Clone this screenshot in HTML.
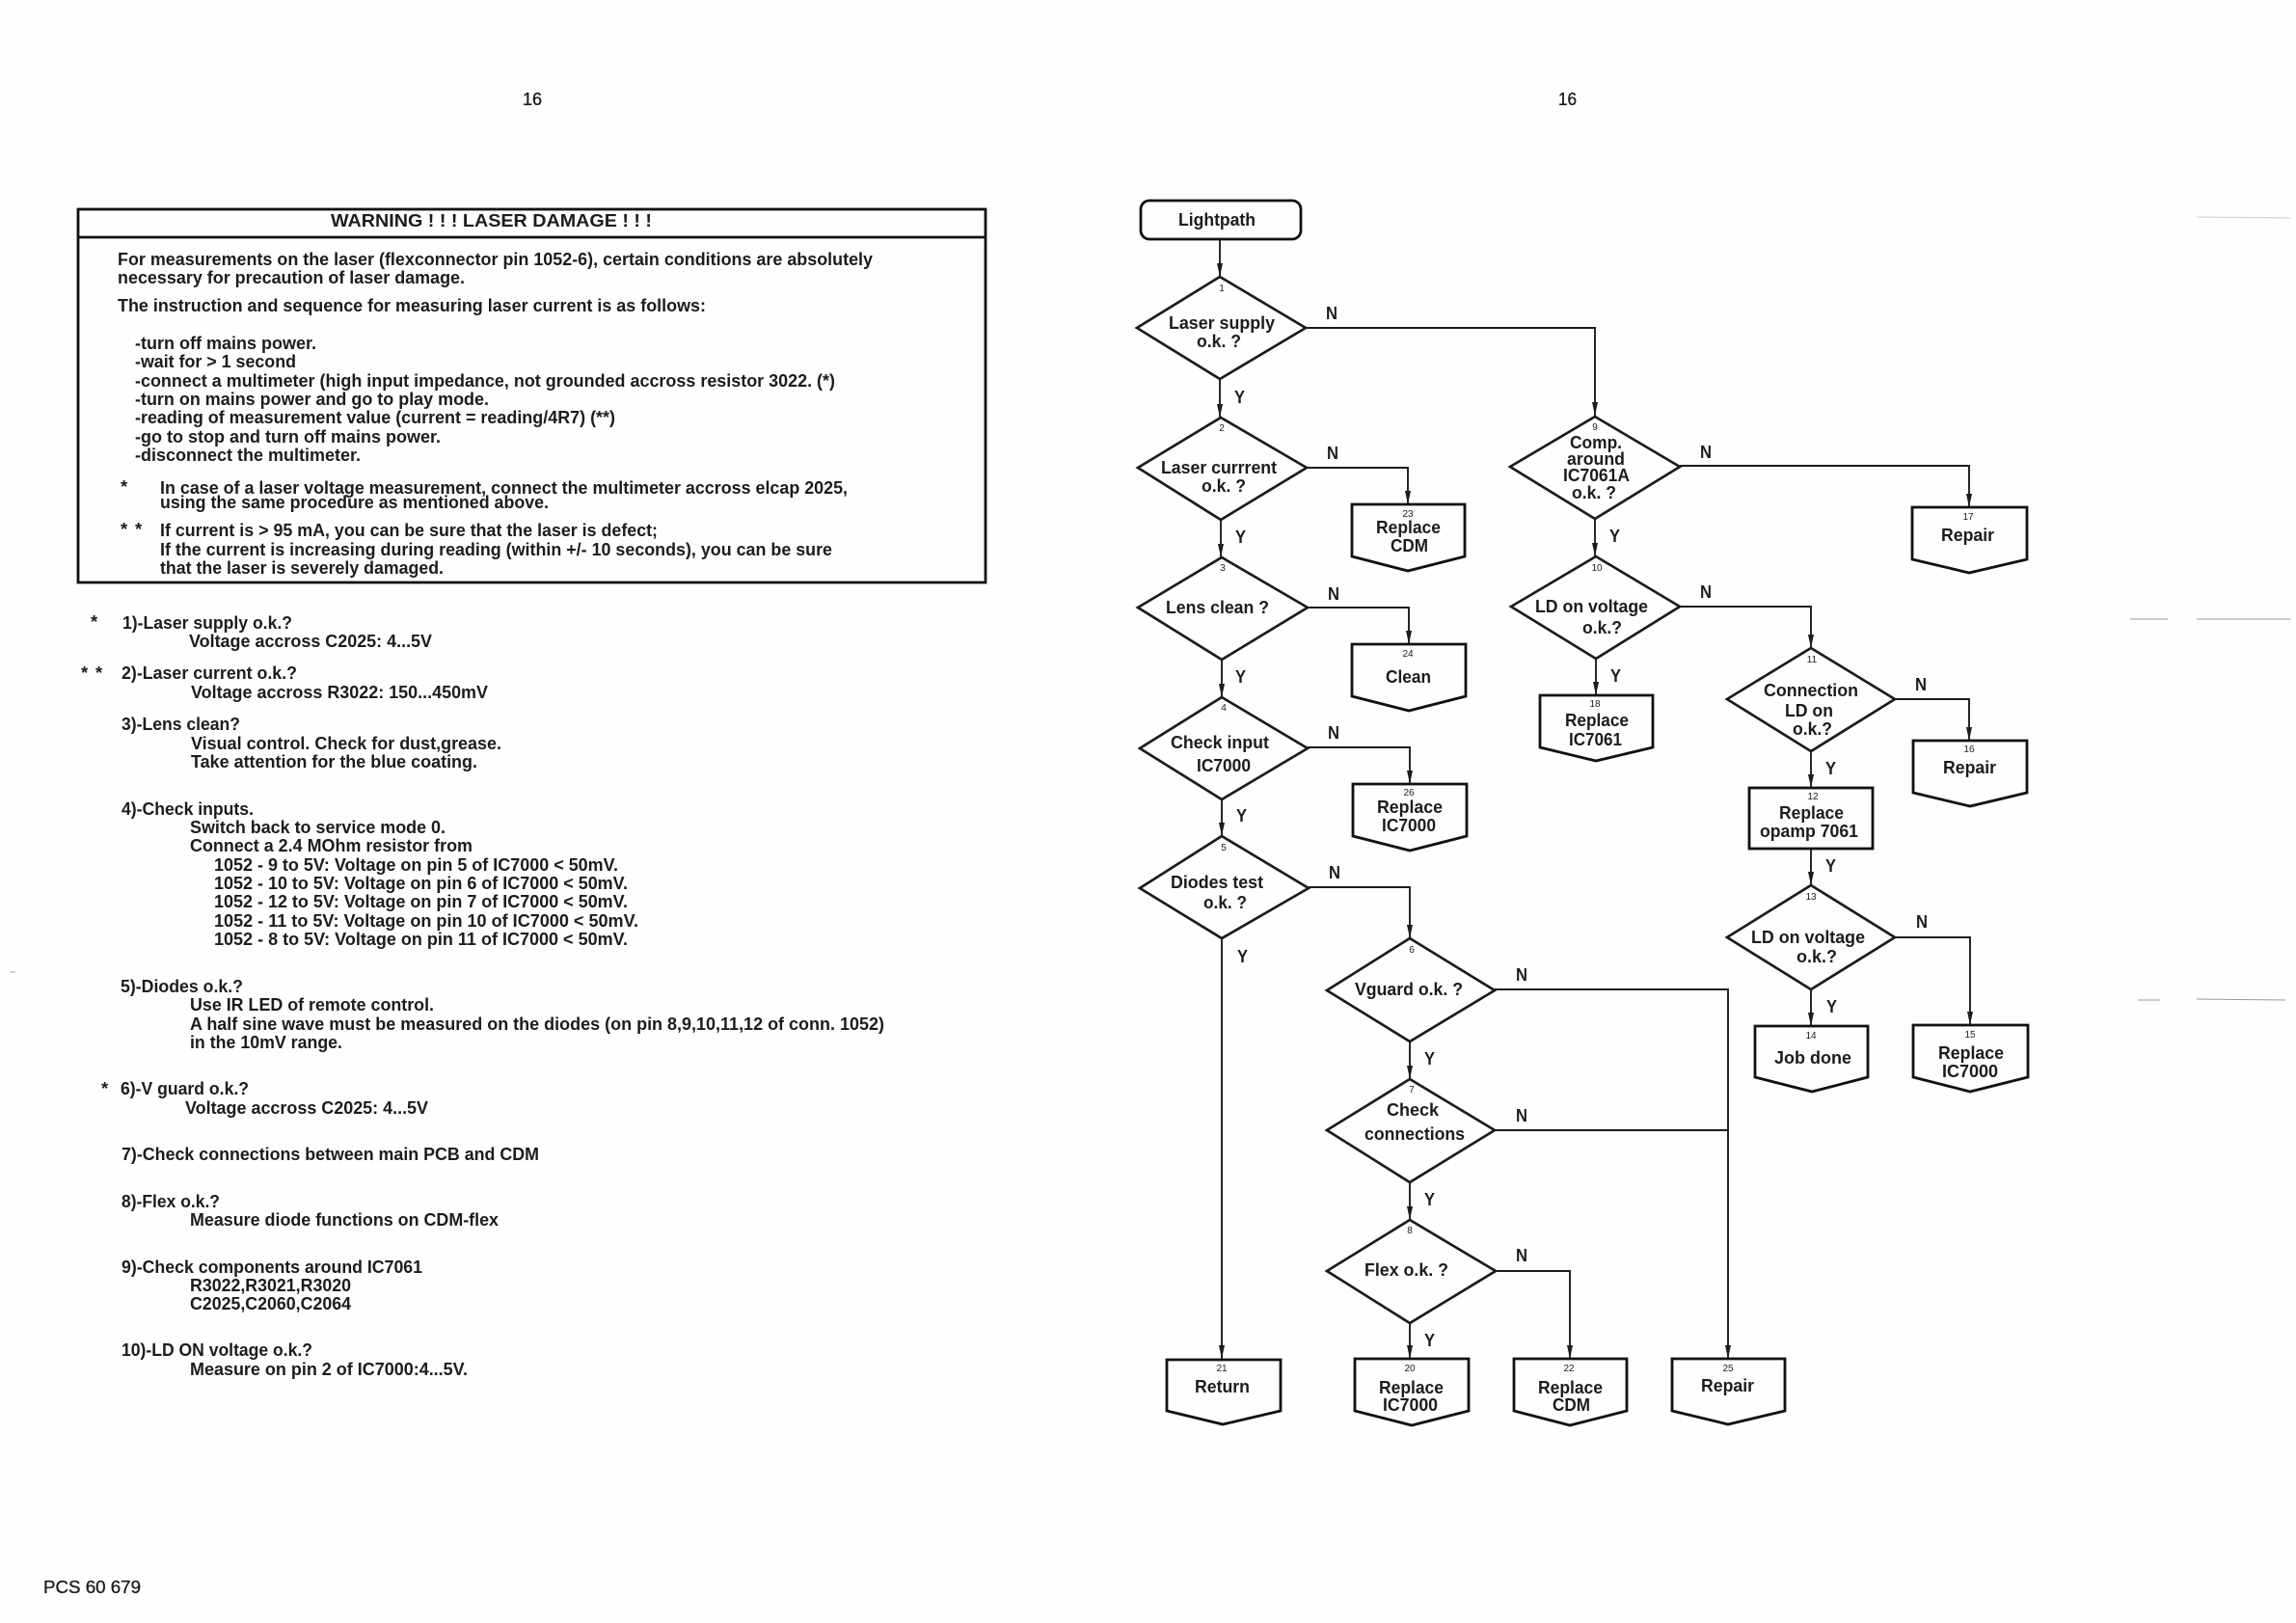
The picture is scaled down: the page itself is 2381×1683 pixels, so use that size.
<!DOCTYPE html>
<html lang="en">
<head>
<meta charset="utf-8">
<title>Lightpath flowchart</title>
<style>
html,body{margin:0;padding:0;background:#fff;}
svg{display:block;position:absolute;left:0;top:0;}
text{font-family:"Liberation Sans",sans-serif;font-weight:bold;font-size:18.5px;fill:#1c1c1c;}
.n{font-size:10px;text-anchor:middle;font-weight:normal;}
.r{font-weight:normal;stroke:#1c1c1c;stroke-width:.35px;}
.c{fill:none;stroke:#1c1c1c;stroke-width:1.9;}
.d{fill:none;stroke:#1c1c1c;stroke-width:2.7;stroke-linejoin:miter;}
.b{fill:none;stroke:#111;stroke-width:2.8;stroke-linejoin:miter;}
.a{fill:#1c1c1c;stroke:none;}
</style>
</head>
<body>
<svg width="2381" height="1683" viewBox="0 0 2381 1683" xmlns="http://www.w3.org/2000/svg">
<rect width="2381" height="1683" fill="#fefefe"/>

<!-- page numbers -->
<text class="r" x="542" y="109" textLength="20" lengthAdjust="spacingAndGlyphs">16</text>
<text class="r" x="1616" y="109" textLength="19" lengthAdjust="spacingAndGlyphs">16</text>
<text class="r" x="45" y="1652" textLength="101" lengthAdjust="spacingAndGlyphs">PCS 60 679</text>

<!-- warning box -->
<rect x="81" y="217" width="941" height="387" fill="none" stroke="#111" stroke-width="2.8"/>
<line x1="81" y1="246" x2="1022" y2="246" stroke="#111" stroke-width="2.8"/>
<text x="343" y="235" textLength="333" lengthAdjust="spacingAndGlyphs">WARNING ! ! ! LASER DAMAGE ! ! !</text>
<text x="122" y="275" textLength="783" lengthAdjust="spacingAndGlyphs">For measurements on the laser (flexconnector pin 1052-6), certain conditions are absolutely</text>
<text x="122" y="294" textLength="360" lengthAdjust="spacingAndGlyphs">necessary for precaution of laser damage.</text>
<text x="122" y="323" textLength="610" lengthAdjust="spacingAndGlyphs">The instruction and sequence for measuring laser current is as follows:</text>
<text x="140" y="362" textLength="188" lengthAdjust="spacingAndGlyphs">-turn off mains power.</text>
<text x="140" y="381" textLength="167" lengthAdjust="spacingAndGlyphs">-wait for &gt; 1 second</text>
<text x="140" y="401" textLength="726" lengthAdjust="spacingAndGlyphs">-connect a multimeter (high input impedance, not grounded accross resistor 3022. (*)</text>
<text x="140" y="420" textLength="367" lengthAdjust="spacingAndGlyphs">-turn on mains power and go to play mode.</text>
<text x="140" y="439" textLength="498" lengthAdjust="spacingAndGlyphs">-reading of measurement value (current = reading/4R7) (**)</text>
<text x="140" y="459" textLength="317" lengthAdjust="spacingAndGlyphs">-go to stop and turn off mains power.</text>
<text x="140" y="478" textLength="234" lengthAdjust="spacingAndGlyphs">-disconnect the multimeter.</text>
<text x="125" y="511">*</text>
<text x="166" y="512" textLength="713" lengthAdjust="spacingAndGlyphs">In case of a laser voltage measurement, connect the multimeter accross elcap 2025,</text>
<text x="166" y="527" textLength="403" lengthAdjust="spacingAndGlyphs">using the same procedure as mentioned above.</text>
<text x="125" y="555">*</text><text x="140" y="555">*</text>
<text x="166" y="556" textLength="516" lengthAdjust="spacingAndGlyphs">If current is &gt; 95 mA, you can be sure that the laser is defect;</text>
<text x="166" y="576" textLength="697" lengthAdjust="spacingAndGlyphs">If the current is increasing during reading (within +/- 10 seconds), you can be sure</text>
<text x="166" y="595" textLength="294" lengthAdjust="spacingAndGlyphs">that the laser is severely damaged.</text>

<!-- list -->
<text x="94" y="651">*</text>
<text x="127" y="652" textLength="176" lengthAdjust="spacingAndGlyphs">1)-Laser supply o.k.?</text>
<text x="196" y="671" textLength="252" lengthAdjust="spacingAndGlyphs">Voltage accross C2025: 4...5V</text>
<text x="84" y="704">*</text><text x="99" y="704">*</text>
<text x="126" y="704" textLength="182" lengthAdjust="spacingAndGlyphs">2)-Laser current o.k.?</text>
<text x="198" y="724" textLength="308" lengthAdjust="spacingAndGlyphs">Voltage accross R3022: 150...450mV</text>
<text x="126" y="757" textLength="123" lengthAdjust="spacingAndGlyphs">3)-Lens clean?</text>
<text x="198" y="777" textLength="322" lengthAdjust="spacingAndGlyphs">Visual control. Check for dust,grease.</text>
<text x="198" y="796" textLength="297" lengthAdjust="spacingAndGlyphs">Take attention for the blue coating.</text>
<text x="126" y="845" textLength="137" lengthAdjust="spacingAndGlyphs">4)-Check inputs.</text>
<text x="197" y="864" textLength="265" lengthAdjust="spacingAndGlyphs">Switch back to service mode 0.</text>
<text x="197" y="883" textLength="293" lengthAdjust="spacingAndGlyphs">Connect a 2.4 MOhm resistor from</text>
<text x="222" y="903" textLength="419" lengthAdjust="spacingAndGlyphs">1052 - 9 to 5V: Voltage on pin 5 of IC7000 &lt; 50mV.</text>
<text x="222" y="922" textLength="429" lengthAdjust="spacingAndGlyphs">1052 - 10 to 5V: Voltage on pin 6 of IC7000 &lt; 50mV.</text>
<text x="222" y="941" textLength="429" lengthAdjust="spacingAndGlyphs">1052 - 12 to 5V: Voltage on pin 7 of IC7000 &lt; 50mV.</text>
<text x="222" y="961" textLength="440" lengthAdjust="spacingAndGlyphs">1052 - 11 to 5V: Voltage on pin 10 of IC7000 &lt; 50mV.</text>
<text x="222" y="980" textLength="429" lengthAdjust="spacingAndGlyphs">1052 - 8 to 5V: Voltage on pin 11 of IC7000 &lt; 50mV.</text>
<text x="125" y="1029" textLength="127" lengthAdjust="spacingAndGlyphs">5)-Diodes o.k.?</text>
<text x="197" y="1048" textLength="253" lengthAdjust="spacingAndGlyphs">Use IR LED of remote control.</text>
<text x="197" y="1068" textLength="720" lengthAdjust="spacingAndGlyphs">A half sine wave must be measured on the diodes (on pin 8,9,10,11,12 of conn. 1052)</text>
<text x="197" y="1087" textLength="158" lengthAdjust="spacingAndGlyphs">in the 10mV range.</text>
<text x="105" y="1135">*</text>
<text x="125" y="1135" textLength="133" lengthAdjust="spacingAndGlyphs">6)-V guard o.k.?</text>
<text x="192" y="1155" textLength="252" lengthAdjust="spacingAndGlyphs">Voltage accross C2025: 4...5V</text>
<text x="126" y="1203" textLength="433" lengthAdjust="spacingAndGlyphs">7)-Check connections between main PCB and CDM</text>
<text x="126" y="1252" textLength="102" lengthAdjust="spacingAndGlyphs">8)-Flex o.k.?</text>
<text x="197" y="1271" textLength="320" lengthAdjust="spacingAndGlyphs">Measure diode functions on CDM-flex</text>
<text x="126" y="1320" textLength="312" lengthAdjust="spacingAndGlyphs">9)-Check components around IC7061</text>
<text x="197" y="1339" textLength="167" lengthAdjust="spacingAndGlyphs">R3022,R3021,R3020</text>
<text x="197" y="1358" textLength="167" lengthAdjust="spacingAndGlyphs">C2025,C2060,C2064</text>
<text x="126" y="1406" textLength="198" lengthAdjust="spacingAndGlyphs">10)-LD ON voltage o.k.?</text>
<text x="197" y="1426" textLength="288" lengthAdjust="spacingAndGlyphs">Measure on pin 2 of IC7000:4...5V.</text>

<!-- start node -->
<rect x="1183" y="208" width="166" height="40" rx="9" ry="9" class="b"/>

<!-- connectors -->
<path class="c" d="M1265 248V287"/>
<path class="c" d="M1265 393V433"/>
<path class="c" d="M1266 539V578"/>
<path class="c" d="M1267 684V723"/>
<path class="c" d="M1267 829V867"/>
<path class="c" d="M1267 973V1409"/>
<path class="c" d="M1354 340H1654V431"/>
<path class="c" d="M1355 485H1460V523"/>
<path class="c" d="M1356 630H1461V668"/>
<path class="c" d="M1356 775H1462V813"/>
<path class="c" d="M1357 920H1462V973"/>
<path class="c" d="M1462 1080V1119"/>
<path class="c" d="M1462 1226V1265"/>
<path class="c" d="M1462 1372V1409"/>
<path class="c" d="M1550 1026H1792V1409"/>
<path class="c" d="M1550 1172H1792"/>
<path class="c" d="M1551 1318H1628V1409"/>
<path class="c" d="M1654 538V577"/>
<path class="c" d="M1655 683V721"/>
<path class="c" d="M1742 483H2042V526"/>
<path class="c" d="M1742 629H1878V672"/>
<path class="c" d="M1965 725H2042V768"/>
<path class="c" d="M1878 779V817"/>
<path class="c" d="M1878 880V918"/>
<path class="c" d="M1965 972H2043V1063"/>
<path class="c" d="M1878 1026V1064"/>

<!-- arrowheads -->
<g class="a">
<polygon points="1265,287 1262,273 1268,273"/>
<polygon points="1265,433 1262,419 1268,419"/>
<polygon points="1266,578 1263,564 1269,564"/>
<polygon points="1267,723 1264,709 1270,709"/>
<polygon points="1267,867 1264,853 1270,853"/>
<polygon points="1267,1409 1264,1395 1270,1395"/>
<polygon points="1654,431 1651,417 1657,417"/>
<polygon points="1460,523 1457,509 1463,509"/>
<polygon points="1461,668 1458,654 1464,654"/>
<polygon points="1462,813 1459,799 1465,799"/>
<polygon points="1462,973 1459,959 1465,959"/>
<polygon points="1462,1119 1459,1105 1465,1105"/>
<polygon points="1462,1265 1459,1251 1465,1251"/>
<polygon points="1462,1409 1459,1395 1465,1395"/>
<polygon points="1792,1409 1789,1395 1795,1395"/>
<polygon points="1628,1409 1625,1395 1631,1395"/>
<polygon points="1654,577 1651,563 1657,563"/>
<polygon points="1655,721 1652,707 1658,707"/>
<polygon points="2042,526 2039,512 2045,512"/>
<polygon points="1878,672 1875,658 1881,658"/>
<polygon points="2042,768 2039,754 2045,754"/>
<polygon points="1878,817 1875,803 1881,803"/>
<polygon points="1878,918 1875,904 1881,904"/>
<polygon points="2043,1063 2040,1049 2046,1049"/>
<polygon points="1878,1064 1875,1050 1881,1050"/>
</g>

<!-- diamonds -->
<g class="d">
<polygon points="1265,287 1354,340 1265,393 1179,340"/>
<polygon points="1266,433 1355,485 1266,539 1180,485"/>
<polygon points="1267,578 1356,630 1267,684 1180,630"/>
<polygon points="1267,723 1356,776 1267,829 1182,776"/>
<polygon points="1267,867 1357,921 1267,973 1182,921"/>
<polygon points="1462,973 1550,1027 1462,1080 1376,1027"/>
<polygon points="1462,1119 1550,1172 1462,1226 1376,1172"/>
<polygon points="1462,1265 1551,1318 1462,1372 1376,1318"/>
<polygon points="1654,432 1742,484 1654,538 1566,484"/>
<polygon points="1655,577 1742,629 1655,683 1567,629"/>
<polygon points="1878,672 1965,725 1878,779 1791,725"/>
<polygon points="1878,918 1965,972 1878,1026 1791,972"/>
</g>

<!-- boxes -->
<g class="b">
<path d="M1402 523H1519V577L1460 592L1402 577Z"/>
<path d="M1402 668H1520V722L1461 737L1402 722Z"/>
<path d="M1403 813H1521V867L1462 882L1403 867Z"/>
<path d="M1983 526H2102V580L2042 594L1983 580Z"/>
<path d="M1597 721H1714V775L1655 789L1597 775Z"/>
<path d="M1984 768H2102V822L2043 836L1984 822Z"/>
<rect x="1814" y="817" width="128" height="63"/>
<path d="M1820 1064H1937V1117L1879 1132L1820 1117Z"/>
<path d="M1984 1063H2103V1117L2043 1132L1984 1117Z"/>
<path d="M1210 1410H1328V1463L1268 1477L1210 1463Z"/>
<path d="M1405 1409H1523V1463L1464 1478L1405 1463Z"/>
<path d="M1570 1409H1687V1463L1628 1478L1570 1463Z"/>
<path d="M1734 1409H1851V1463L1792 1477L1734 1463Z"/>
</g>

<!-- flow labels -->
<text x="1222" y="234" textLength="80" lengthAdjust="spacingAndGlyphs">Lightpath</text>

<text class="n" x="1267" y="302">1</text>
<text x="1212" y="341" textLength="110" lengthAdjust="spacingAndGlyphs">Laser supply</text>
<text x="1241" y="360" textLength="46" lengthAdjust="spacingAndGlyphs">o.k. ?</text>
<text x="1375" y="331" textLength="12" lengthAdjust="spacingAndGlyphs">N</text>
<text x="1280" y="418" textLength="11" lengthAdjust="spacingAndGlyphs">Y</text>

<text class="n" x="1267" y="447">2</text>
<text x="1204" y="491" textLength="120" lengthAdjust="spacingAndGlyphs">Laser currrent</text>
<text x="1246" y="510" textLength="46" lengthAdjust="spacingAndGlyphs">o.k. ?</text>
<text x="1376" y="476" textLength="12" lengthAdjust="spacingAndGlyphs">N</text>
<text x="1281" y="563" textLength="11" lengthAdjust="spacingAndGlyphs">Y</text>

<text class="n" x="1460" y="536">23</text>
<text x="1427" y="553" textLength="67" lengthAdjust="spacingAndGlyphs">Replace</text>
<text x="1442" y="572" textLength="39" lengthAdjust="spacingAndGlyphs">CDM</text>

<text class="n" x="1268" y="592">3</text>
<text x="1209" y="636" textLength="107" lengthAdjust="spacingAndGlyphs">Lens clean ?</text>
<text x="1377" y="622" textLength="12" lengthAdjust="spacingAndGlyphs">N</text>
<text x="1281" y="708" textLength="11" lengthAdjust="spacingAndGlyphs">Y</text>

<text class="n" x="1460" y="681">24</text>
<text x="1437" y="708" textLength="47" lengthAdjust="spacingAndGlyphs">Clean</text>

<text class="n" x="1269" y="737">4</text>
<text x="1214" y="776" textLength="102" lengthAdjust="spacingAndGlyphs">Check input</text>
<text x="1241" y="800" textLength="56" lengthAdjust="spacingAndGlyphs">IC7000</text>
<text x="1377" y="766" textLength="12" lengthAdjust="spacingAndGlyphs">N</text>
<text x="1282" y="852" textLength="11" lengthAdjust="spacingAndGlyphs">Y</text>

<text class="n" x="1461" y="825">26</text>
<text x="1428" y="843" textLength="68" lengthAdjust="spacingAndGlyphs">Replace</text>
<text x="1433" y="862" textLength="56" lengthAdjust="spacingAndGlyphs">IC7000</text>

<text class="n" x="1269" y="882">5</text>
<text x="1214" y="921" textLength="96" lengthAdjust="spacingAndGlyphs">Diodes test</text>
<text x="1248" y="942" textLength="45" lengthAdjust="spacingAndGlyphs">o.k. ?</text>
<text x="1378" y="911" textLength="12" lengthAdjust="spacingAndGlyphs">N</text>
<text x="1283" y="998" textLength="11" lengthAdjust="spacingAndGlyphs">Y</text>

<text class="n" x="1464" y="988">6</text>
<text x="1405" y="1032" textLength="112" lengthAdjust="spacingAndGlyphs">Vguard o.k. ?</text>
<text x="1572" y="1017" textLength="12" lengthAdjust="spacingAndGlyphs">N</text>
<text x="1477" y="1104" textLength="11" lengthAdjust="spacingAndGlyphs">Y</text>

<text class="n" x="1464" y="1133">7</text>
<text x="1438" y="1157" textLength="54" lengthAdjust="spacingAndGlyphs">Check</text>
<text x="1415" y="1182" textLength="104" lengthAdjust="spacingAndGlyphs">connections</text>
<text x="1572" y="1163" textLength="12" lengthAdjust="spacingAndGlyphs">N</text>
<text x="1477" y="1250" textLength="11" lengthAdjust="spacingAndGlyphs">Y</text>

<text class="n" x="1462" y="1279">8</text>
<text x="1415" y="1323" textLength="87" lengthAdjust="spacingAndGlyphs">Flex o.k. ?</text>
<text x="1572" y="1308" textLength="12" lengthAdjust="spacingAndGlyphs">N</text>
<text x="1477" y="1396" textLength="11" lengthAdjust="spacingAndGlyphs">Y</text>

<text class="n" x="1267" y="1422">21</text>
<text x="1239" y="1444" textLength="57" lengthAdjust="spacingAndGlyphs">Return</text>
<text class="n" x="1462" y="1422">20</text>
<text x="1430" y="1445" textLength="67" lengthAdjust="spacingAndGlyphs">Replace</text>
<text x="1434" y="1463" textLength="57" lengthAdjust="spacingAndGlyphs">IC7000</text>
<text class="n" x="1627" y="1422">22</text>
<text x="1595" y="1445" textLength="67" lengthAdjust="spacingAndGlyphs">Replace</text>
<text x="1610" y="1463" textLength="39" lengthAdjust="spacingAndGlyphs">CDM</text>
<text class="n" x="1792" y="1422">25</text>
<text x="1764" y="1443" textLength="55" lengthAdjust="spacingAndGlyphs">Repair</text>

<text class="n" x="1654" y="446">9</text>
<text x="1628" y="465" textLength="54" lengthAdjust="spacingAndGlyphs">Comp.</text>
<text x="1625" y="482" textLength="60" lengthAdjust="spacingAndGlyphs">around</text>
<text x="1621" y="499" textLength="69" lengthAdjust="spacingAndGlyphs">IC7061A</text>
<text x="1630" y="517" textLength="46" lengthAdjust="spacingAndGlyphs">o.k. ?</text>
<text x="1763" y="475" textLength="12" lengthAdjust="spacingAndGlyphs">N</text>
<text x="1669" y="562" textLength="11" lengthAdjust="spacingAndGlyphs">Y</text>

<text class="n" x="2041" y="539">17</text>
<text x="2013" y="561" textLength="55" lengthAdjust="spacingAndGlyphs">Repair</text>

<text class="n" x="1656" y="592">10</text>
<text x="1592" y="635" textLength="117" lengthAdjust="spacingAndGlyphs">LD on voltage</text>
<text x="1641" y="657" textLength="41" lengthAdjust="spacingAndGlyphs">o.k.?</text>
<text x="1763" y="620" textLength="12" lengthAdjust="spacingAndGlyphs">N</text>
<text x="1670" y="707" textLength="11" lengthAdjust="spacingAndGlyphs">Y</text>

<text class="n" x="1654" y="733">18</text>
<text x="1623" y="753" textLength="66" lengthAdjust="spacingAndGlyphs">Replace</text>
<text x="1627" y="773" textLength="55" lengthAdjust="spacingAndGlyphs">IC7061</text>

<text class="n" x="1879" y="687">11</text>
<text x="1829" y="722" textLength="98" lengthAdjust="spacingAndGlyphs">Connection</text>
<text x="1851" y="743" textLength="50" lengthAdjust="spacingAndGlyphs">LD on</text>
<text x="1859" y="762" textLength="41" lengthAdjust="spacingAndGlyphs">o.k.?</text>
<text x="1986" y="716" textLength="12" lengthAdjust="spacingAndGlyphs">N</text>
<text x="1893" y="803" textLength="11" lengthAdjust="spacingAndGlyphs">Y</text>

<text class="n" x="2042" y="780">16</text>
<text x="2015" y="802" textLength="55" lengthAdjust="spacingAndGlyphs">Repair</text>

<text class="n" x="1880" y="829">12</text>
<text x="1845" y="849" textLength="67" lengthAdjust="spacingAndGlyphs">Replace</text>
<text x="1825" y="868" textLength="102" lengthAdjust="spacingAndGlyphs">opamp 7061</text>
<text x="1893" y="904" textLength="11" lengthAdjust="spacingAndGlyphs">Y</text>

<text class="n" x="1878" y="933">13</text>
<text x="1816" y="978" textLength="118" lengthAdjust="spacingAndGlyphs">LD on voltage</text>
<text x="1863" y="998" textLength="42" lengthAdjust="spacingAndGlyphs">o.k.?</text>
<text x="1987" y="962" textLength="12" lengthAdjust="spacingAndGlyphs">N</text>
<text x="1894" y="1050" textLength="11" lengthAdjust="spacingAndGlyphs">Y</text>

<text class="n" x="1878" y="1077">14</text>
<text x="1840" y="1103" textLength="80" lengthAdjust="spacingAndGlyphs">Job done</text>
<text class="n" x="2043" y="1076">15</text>
<text x="2010" y="1098" textLength="68" lengthAdjust="spacingAndGlyphs">Replace</text>
<text x="2014" y="1117" textLength="58" lengthAdjust="spacingAndGlyphs">IC7000</text>

<!-- scan artefacts at right edge -->
<g stroke="#999" stroke-width="1" fill="none">
<line x1="2278" y1="225" x2="2376" y2="226" stroke="#ccc"/>
<line x1="2209" y1="642" x2="2248" y2="642"/>
<line x1="2278" y1="642" x2="2376" y2="642"/>
<line x1="2217" y1="1037" x2="2240" y2="1037"/>
<line x1="2278" y1="1036" x2="2370" y2="1037"/>
<line x1="10" y1="1008" x2="16" y2="1008" stroke="#aaa"/>
</g>
</svg>
</body>
</html>
